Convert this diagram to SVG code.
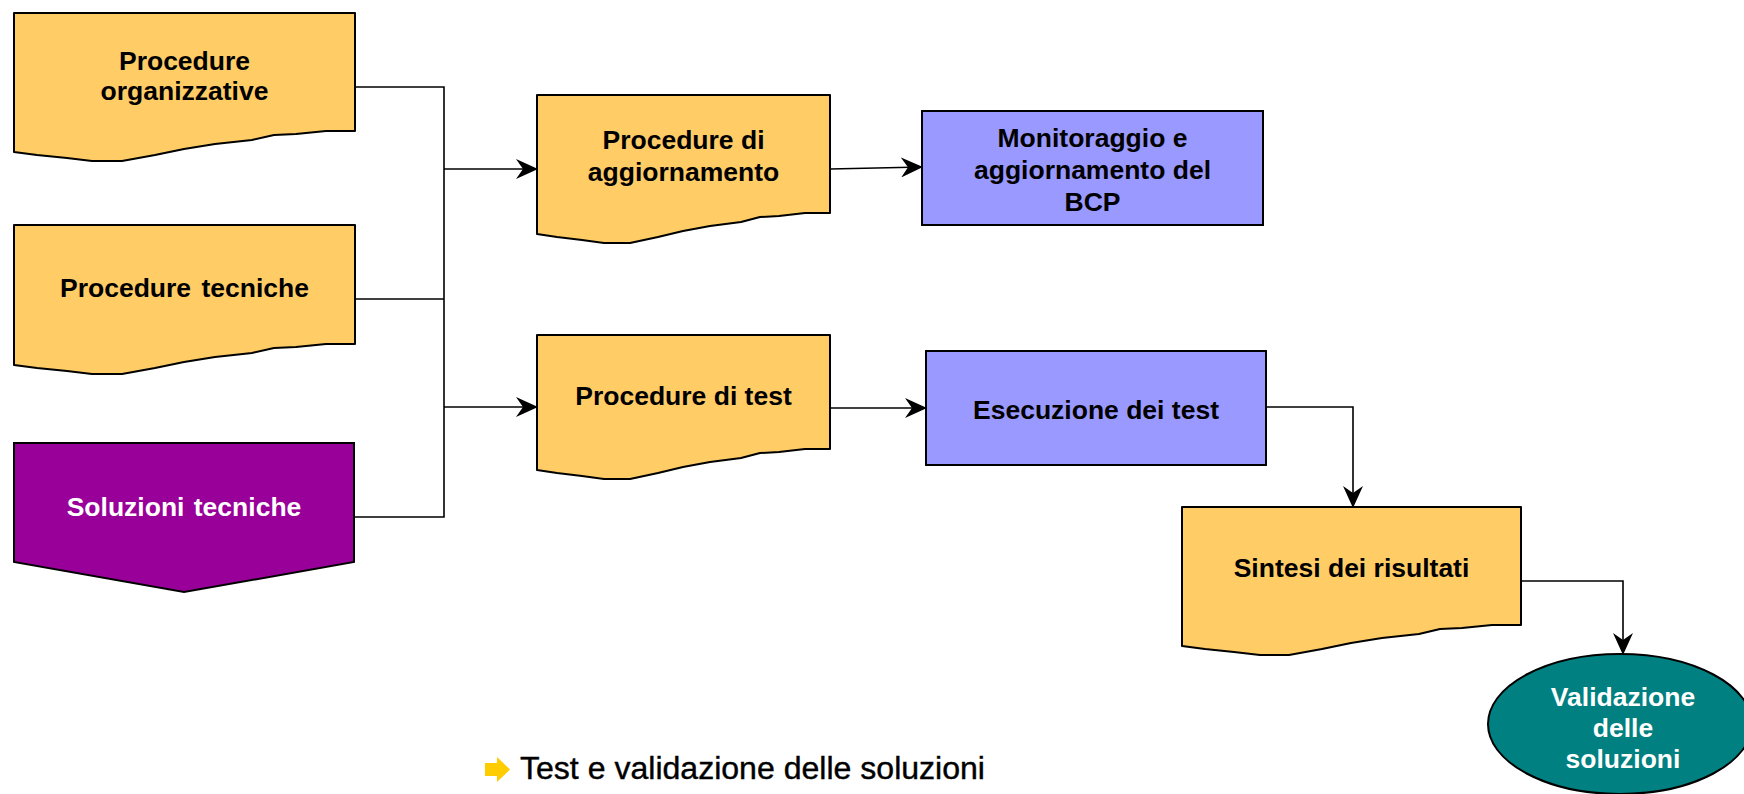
<svg xmlns="http://www.w3.org/2000/svg" width="1744" height="794" viewBox="0 0 1744 794">
<style>
.doc{fill:#FFCC66;stroke:#000;stroke-width:2;stroke-linejoin:round}
.proc{fill:#9999FF;stroke:#000;stroke-width:2}
.t{font-family:"Liberation Sans",Arial,sans-serif;font-weight:bold;font-size:26.5px;text-anchor:middle;fill:#000}
.w{fill:#fff}
.con{fill:none;stroke:#000;stroke-width:1.6}
</style>
<defs>
<marker id="ah" markerUnits="userSpaceOnUse" viewBox="0 0 22 20" refX="21" refY="10" markerWidth="22" markerHeight="20" orient="auto">
<path d="M0,0 L22,10 L0,20 L7,10 Z" fill="#000"/>
</marker>
</defs>
<rect width="1744" height="794" fill="#fff"/>
<g id="connectors">
<path class="con" d="M355,87 H444 V517 H355"/>
<path class="con" d="M355,299 H444"/>
<path class="con" d="M444,169 H537" marker-end="url(#ah)"/>
<path class="con" d="M444,407 H537" marker-end="url(#ah)"/>
<path class="con" d="M830,169 L922,167" marker-end="url(#ah)"/>
<path class="con" d="M830,408 H926" marker-end="url(#ah)"/>
<path class="con" d="M1266,407 H1353 V507" marker-end="url(#ah)"/>
<path class="con" d="M1521,581 H1623 V654" marker-end="url(#ah)"/>
</g>
<g id="n1">
<path class="doc" d="M14,13 H355 V131 L326,131 L296,134 L274,135 L252,140 L215,144 L184,149 L155,155 L122,161 L92,161 L67,158 L37,155 L14,152 Z"/>
<text class="t" x="184.5" y="70">Procedure</text>
<text class="t" x="184.5" y="100">organizzative</text>
</g>
<g id="n2">
<path class="doc" d="M14,225 H355 V344 L326,344 L296,347 L274,348 L252,353 L215,357 L184,362 L155,368 L122,374 L92,374 L67,371 L37,368 L14,365 Z"/>
<text class="t" x="184.5" y="297" word-spacing="3">Procedure tecniche</text>
</g>
<g id="n3">
<path d="M14,443 H354 V562 L184,592 L14,562 Z" fill="#990099" stroke="#000" stroke-width="2"/>
<text class="t w" x="184" y="516" word-spacing="2">Soluzioni tecniche</text>
</g>
<g id="n4">
<path class="doc" d="M537,95 H830 V213 L805,213 L779,216 L760,217 L741,222 L710,226 L683,231 L658,237 L630,243 L604,243 L582,240 L557,237 L537,234 Z"/>
<text class="t" x="683.5" y="149">Procedure di</text>
<text class="t" x="683.5" y="181">aggiornamento</text>
</g>
<g id="n5">
<rect class="proc" x="922" y="111" width="341" height="114"/>
<text class="t" x="1092.5" y="147">Monitoraggio e</text>
<text class="t" x="1092.5" y="179">aggiornamento del</text>
<text class="t" x="1092.5" y="211">BCP</text>
</g>
<g id="n6">
<path class="doc" d="M537,335 H830 V449 L805,449 L779,452 L760,453 L741,458 L710,462 L683,467 L658,473 L630,479 L604,479 L582,476 L557,473 L537,470 Z"/>
<text class="t" x="683.5" y="405">Procedure di test</text>
</g>
<g id="n7">
<rect class="proc" x="926" y="351" width="340" height="114"/>
<text class="t" x="1096" y="419">Esecuzione dei test</text>
</g>
<g id="n8">
<path class="doc" d="M1182,507 H1521 V625 L1492,625 L1462,628 L1440,629 L1419,634 L1382,638 L1351,643 L1322,649 L1289,655 L1260,655 L1234,652 L1205,649 L1182,646 Z"/>
<text class="t" x="1351.5" y="577">Sintesi dei risultati</text>
</g>
<g id="n9">
<ellipse cx="1620" cy="724" rx="132" ry="70" fill="#008080" stroke="#000" stroke-width="2"/>
<text class="t w" x="1623" y="706">Validazione</text>
<text class="t w" x="1623" y="737">delle</text>
<text class="t w" x="1623" y="768">soluzioni</text>
</g>
<g id="caption">
<polygon points="485,763 497,763 497,757 510,769.5 497,782 497,776 485,776" fill="#FFCC00"/>
<text x="520" y="779" font-family="Liberation Sans, Arial, sans-serif" font-size="31" textLength="465" lengthAdjust="spacingAndGlyphs" fill="#000" stroke="#000" stroke-width="0.4">Test e validazione delle soluzioni</text>
</g>
</svg>
